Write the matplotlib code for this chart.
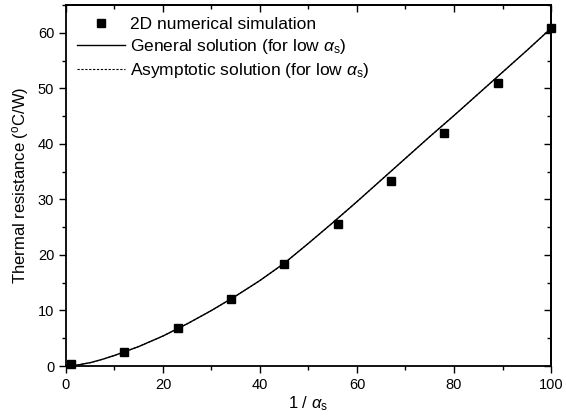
import matplotlib
matplotlib.use('Agg')
import matplotlib.pyplot as plt
from matplotlib.ticker import MultipleLocator

# 2D numerical simulation points
sim_x = [1, 12, 23, 34, 45, 56, 67, 78, 89, 100]
sim_y = [0.3, 2.6, 6.8, 12.1, 18.4, 25.5, 33.3, 41.9, 51.0, 60.8]

# general solution
gen_x = [0, 2.5, 5, 7.5, 10, 15, 20, 25, 30, 35, 40, 45, 50, 55, 60, 65, 70, 75, 80, 85, 90, 95, 100]
gen_y = [0, 0.2, 0.6, 1.2, 1.9, 3.5, 5.4, 7.6, 10.0, 12.6, 15.4, 18.5, 22.1, 25.8, 29.6, 33.5,
         37.4, 41.3, 45.1, 49.0, 52.9, 56.8, 60.8]

# asymptotic solution sits right under the general one
asy_x = gen_x
asy_y = [0, 0.2, 0.6, 1.2, 1.9, 3.5, 5.4, 7.6, 10.0, 12.6, 15.4, 18.5, 22.1, 25.8, 29.6, 33.5,
         37.4, 41.3, 45.1, 49.0, 52.9, 56.8, 60.8]

plt.rcParams['font.family'] = ['Liberation Sans', 'DejaVu Sans']
plt.rcParams['mathtext.fontset'] = 'custom'
plt.rcParams['mathtext.rm'] = 'Liberation Sans'
plt.rcParams['mathtext.it'] = 'Liberation Sans:italic'

fig = plt.figure(figsize=(5.66, 4.18), dpi=100)
ax = fig.add_axes([0.1166, 0.1244, 0.8569, 0.8636])

ax.plot(asy_x, asy_y, color='black', lw=0.8, ls=(0, (2, 1.5)),
        label=r'Asymptotic solution (for low $\alpha_{\mathrm{s}}$)')
ax.plot(gen_x, gen_y, color='black', lw=1.0,
        label=r'General solution (for low $\alpha_{\mathrm{s}}$)')
ax.plot(sim_x, sim_y, ls='none', marker='s', ms=6, color='black',
        label='2D numerical simulation', clip_on=False, zorder=5)

ax.set_xlim(0, 100)
ax.set_ylim(0, 65)
ax.xaxis.set_major_locator(MultipleLocator(20))
ax.xaxis.set_minor_locator(MultipleLocator(10))
ax.yaxis.set_major_locator(MultipleLocator(10))
ax.yaxis.set_minor_locator(MultipleLocator(5))

ax.tick_params(which='both', direction='out', labelsize=10.5, width=1, top=False, right=False)
ax.tick_params(which='major', length=5)
ax.tick_params(which='minor', length=3)
for s in ax.spines.values():
    s.set_linewidth(1.3)

# mirrored ticks on top/right pointing inward
axt = ax.secondary_xaxis('top')
axt.xaxis.set_major_locator(MultipleLocator(20))
axt.xaxis.set_minor_locator(MultipleLocator(10))
axt.tick_params(which='both', direction='in', labeltop=False, width=1)
axt.tick_params(which='major', length=5)
axt.tick_params(which='minor', length=3)
axt.spines['top'].set_linewidth(1.3)
axr = ax.secondary_yaxis('right')
axr.yaxis.set_major_locator(MultipleLocator(10))
axr.yaxis.set_minor_locator(MultipleLocator(5))
axr.tick_params(which='both', direction='in', labelright=False, width=1)
axr.tick_params(which='major', length=5)
axr.tick_params(which='minor', length=3)
axr.spines['right'].set_linewidth(1.3)

ax.set_xlabel(r'1 / $\alpha_{\mathrm{s}}$', fontsize=12, labelpad=2)
ax.set_ylabel(r'Thermal resistance ($^{\mathrm{o}}$C/W)', fontsize=12, labelpad=5)

handles, labels = ax.get_legend_handles_labels()
order = [2, 1, 0]
ax.legend([handles[i] for i in order], [labels[i] for i in order],
          loc='upper left', bbox_to_anchor=(0.022, 0.968), frameon=False,
          fontsize=12.5, handlelength=2.8, handletextpad=0.25, labelspacing=0.3,
          borderpad=0, borderaxespad=0)

fig.savefig('out.png', dpi=100)
